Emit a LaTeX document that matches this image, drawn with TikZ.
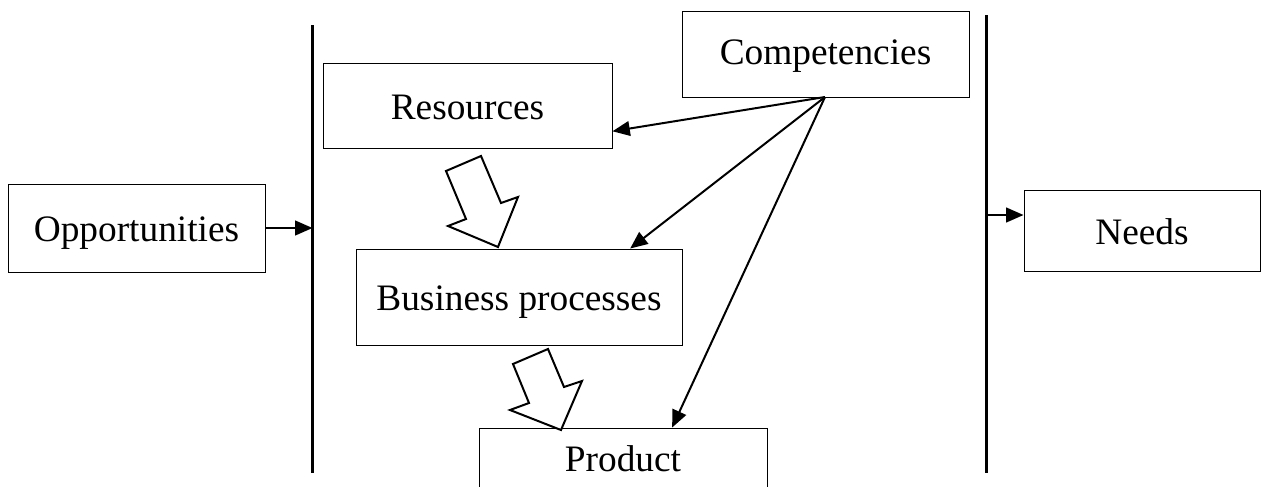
\documentclass[tikz,border=0pt]{standalone}
\usepackage{fontspec}
\setmainfont{Liberation Serif}
\usetikzlibrary{arrows.meta,calc}
\begin{document}
\begin{tikzpicture}[x=0.75pt,y=-0.75pt,
  box/.style={draw, line width=0.7pt, inner sep=0pt, font=\fontsize{28}{32}\selectfont, text height=25.2pt, text depth=4.8pt},
  conn/.style={line width=1.5pt, -{Triangle[length=13pt,width=11pt]}},
  barline/.style={line width=2.2pt},
  blockarrow/.style={draw, line width=1.5pt, fill=white, line join=miter}]
\useasboundingbox (0,0) rectangle (1261,486);

\node[box, minimum width=257*0.75pt, minimum height=88*0.75pt] (opp) at (136.5,228) {Opportunities};
\node[box, minimum width=289*0.75pt, minimum height=85*0.75pt] (res) at (467.5,105.5) {Resources};
\node[box, minimum width=287*0.75pt, minimum height=86*0.75pt, text height=20pt] (comp) at (825.5,54) {Competencies};
\node[box, minimum width=326*0.75pt, minimum height=96*0.75pt] (bp) at (519,297) {Business processes};
\node[box, minimum width=288*0.75pt, minimum height=60*0.75pt] (prod) at (623,458) {Product};
\node[box, minimum width=236*0.75pt, minimum height=81*0.75pt] (needs) at (1142,230.5) {Needs};

% vertical bars
\coordinate (L1) at (312.5,25);
\coordinate (L2) at (312.5,473);
\coordinate (R1) at (986.5,15);
\coordinate (R2) at (986.5,473);
\draw[barline] (L1) -- (L2);
\draw[barline] (R1) -- (R2);

% arrows to/from bars
\draw[conn] (opp.east) -- (opp.east -| L1);
\coordinate (nstart) at (986.5,215);
\draw[conn] (nstart) -- (nstart -| needs.west);

% competencies arrows
\coordinate (cs) at (825,97);
\draw[conn] (cs) -- ($(res.south east)!0.2!(res.north east)$);
\draw[conn] (cs) -- ($(bp.north west)!0.84!(bp.north east)$);
\draw[conn] (cs) -- ($(prod.north west)!0.67!(prod.north east)$);

% block arrows
\draw[blockarrow] (446,171) -- (481,156) -- (501,203) -- (518,197) -- (498,247) -- (448,226) -- (466,219) -- cycle;
\draw[blockarrow] (513,364) -- (548,349) -- (564,387) -- (582,381) -- (561,430) -- (510,410) -- (529,403) -- cycle;
\end{tikzpicture}
\end{document}
